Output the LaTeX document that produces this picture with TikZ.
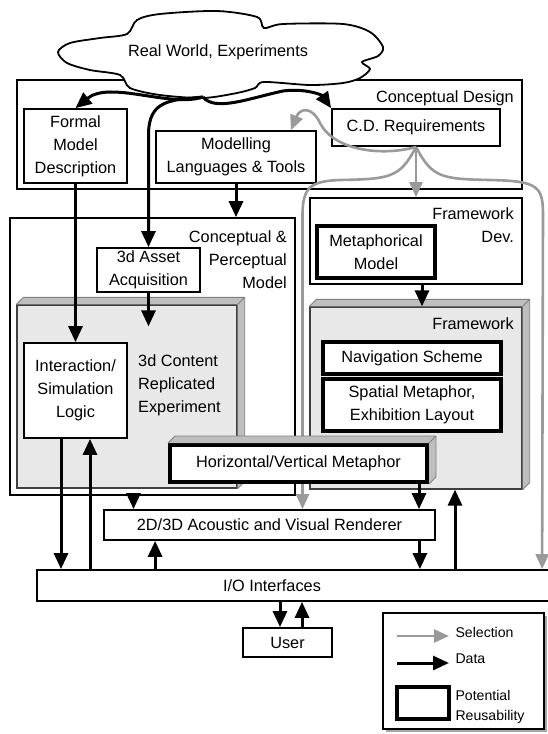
\documentclass[tikz,border=0pt]{standalone}
\usepackage{fontspec}
\setmainfont{Liberation Sans}
\usetikzlibrary{arrows.meta,calc,shadows}

\definecolor{selgray}{HTML}{9A9A9A}
\definecolor{slabfront}{HTML}{E8E8E8}
\definecolor{slabside}{HTML}{BEBEBE}

\newcommand{\slabdepth}[1]{%
  \fill[slabside] (#1.north west) -- ++(7,-7) -- ($(#1.north east)+(7,-7)$) -- ($(#1.south east)+(7,-7)$) -- (#1.south east) -- (#1.north east) -- cycle;
  \draw[gray,line width=0.8pt] (#1.north west) -- ++(7,-7) -- ($(#1.north east)+(7,-7)$) -- ($(#1.south east)+(7,-7)$) -- (#1.south east) (#1.north east) -- ++(7,-7);}

\begin{document}
\begin{tikzpicture}[x=1pt,y=-1pt,
  font=\fontsize{16.3}{23}\selectfont,
  box/.style={draw,line width=1.8pt,fill=white,align=center,inner sep=2pt},
  reuse/.style={box,line width=4pt},
  frame/.style={draw,line width=1.8pt,inner sep=0pt},
  slab/.style={draw=black!75,line width=1.3pt,fill=slabfront,inner sep=0pt},
  tag/.style={align=right,inner sep=2pt},
  keytext/.style={font=\fontsize{14.1}{20}\selectfont,align=left},
  data/.style={line width=3pt,-{Triangle[length=16pt,width=14pt]}},
  sel/.style={selgray,line width=2.6pt,-{Triangle[length=15pt,width=13pt]}}]
\useasboundingbox (0,0) rectangle (547,734);

\node[frame,minimum width=505pt,minimum height=109pt] (cd) at (269.5,134.5) {};
\node[tag,anchor=east] (cdtag) at (516,98) {Conceptual Design};
\draw[line width=1.8pt,fill=white] plot[smooth cycle,tension=0.5] coordinates {
  (58,52) (70,43) (100,38) (127,34) (137,20) (160,14) (217,11) (257,17) (264,28)
  (283,24) (343,24) (370,32) (383,47) (378,56) (362,62) (370,69) (360,78) (343,83)
  (310,85) (264,82) (255,88) (237,93) (203,98) (160,95) (130,88) (120,75) (90,70) (67,63)};
\node (world) at (218,52) {Real World, Experiments};
\node[box,minimum width=103pt,minimum height=74pt] (fmd) at (75.5,146) {Formal\\Model\\Description};
\node[box,minimum width=160pt,minimum height=52pt] (mlt) at (236,157) {Modelling\\Languages \& Tools};
\node[box,minimum width=168pt,minimum height=37pt] (cdr) at (416,127.5) {C.D. Requirements};

\node[frame,minimum width=285pt,minimum height=277pt] (cpm) at (152.5,356.5) {};
\node[tag,anchor=north east] (cpmtag) at (289,228) {Conceptual \&\\Perceptual\\Model};
\node[box,minimum width=103pt,minimum height=44pt] (asset) at (148.5,270) {3d Asset\\Acquisition};
\node[slab,minimum width=220pt,minimum height=183pt] (content) at (127,396.5) {};
\slabdepth{content}
\node[align=left,anchor=north west,inner sep=2pt] (contenttag) at (136,352) {3d Content\\Replicated\\Experiment};
\node[box,minimum width=103pt,minimum height=95pt] (isl) at (75.5,390.5) {Interaction/\\Simulation\\Logic};

\node[frame,minimum width=212pt,minimum height=86pt] (fwdev) at (416,241) {};
\node[tag,anchor=north east] (fwdevtag) at (516,205) {Framework\\Dev.};
\node[reuse,minimum width=118pt,minimum height=52pt] (mm) at (376,252) {Metaphorical\\Model};
\node[slab,minimum width=212pt,minimum height=182pt] (fw) at (416,398) {};
\slabdepth{fw}
\node[tag,anchor=north east] (fwtag) at (516,315) {Framework};
\node[reuse,minimum width=178pt,minimum height=32pt] (nav) at (412,358) {Navigation Scheme};
\node[reuse,minimum width=178pt,minimum height=52pt] (spm) at (412,405) {Spatial Metaphor,\\Exhibition Layout};

\node[box,minimum width=331pt,minimum height=30pt] (rend) at (269.5,525) {2D/3D Acoustic and Visual Renderer};
\node[box,minimum width=523pt,minimum height=31pt] (io) at (298.5,585.5) {};
\node (iotag) at (272,585.5) {I/O Interfaces};
\node[box,minimum width=89pt,minimum height=29pt] (user) at (287.5,642.5) {User};

\coordinate (drop) at ([xshift=-15pt]world.south |- 0,97);
\draw[data] (drop) .. controls (170,108) and (110,80) .. (fmd.north);
\draw[data] (drop) .. controls (170,100) and (148.5,100) .. (148.5,135) -- (asset.north);
\draw[data] (drop) .. controls (215,112) and (250,98) .. (283,91) .. controls (305,88) and (322,95) .. (cdr.north west);
\draw[data] (fmd.south) -- (isl.north);
\draw[data] (mlt.south) -- (mlt.south |- cpm.north);
\draw[data] (asset.south) -- ($(asset.south |- content.north)+(0,22)$);
\draw[data] ([xshift=6pt]fwdev.south) -- ([xshift=6pt]fw.north);

\draw[sel] (cdr.south) -- (fwdev.north);
\draw[sel] (cdr.south) .. controls (385,156) and (335,152) .. (320,123) .. controls (312,106) and (300,108) .. ([xshift=-26pt]mlt.north east);
\draw[sel] (cdr.south) .. controls (400,178) and (390,179) .. (340,180) .. controls (310,181) and (302.5,188) .. (302.5,215) -- ($(rend.north)+(33,0)$);
\draw[sel] (cdr.south) .. controls (432,178) and (442,179) .. (490,180) .. controls (538,181) and (543,186) .. (543,215) -- ($(io.north west)+(506,0)$);

\node[reuse,minimum width=257pt,minimum height=37pt] (hvm) at (298.5,463.5) {Horizontal/Vertical Metaphor};
\slabdepth{hvm}

\draw[data] ($(isl.south)+(-14.5,0)$) -- ($(isl.south |- io.north)+(-14.5,0)$);
\draw[data] ($(isl.south |- io.north)+(14.5,0)$) -- ($(isl.south)+(14.5,0)$);
\draw[data] ($(cpm.south)+(-19,0)$) -- ($(cpm.south |- rend.north)+(-19,0)$);
\draw[data] ($(io.north -| rend.south west)+(52,0)$) -- ($(rend.south west)+(52,0)$);
\draw[data] ($(hvm.south)+(120.5,0)$) -- ($(hvm.south |- rend.north)+(120.5,0)$);
\draw[data] ($(rend.south east)+(-16,0)$) -- ($(io.north -| rend.south east)+(-16,0)$);
\draw[data] ($(io.north -| fw.south)+(39,0)$) -- ($(fw.south)+(39,0)$);
\draw[data] ($(io.south -| user.north)+(-7.5,0)$) -- ($(user.north)+(-7.5,0)$);
\draw[data] ($(user.north)+(14.5,0)$) -- ($(io.south -| user.north)+(14.5,0)$);

\node[frame,fill=white,drop shadow={shadow xshift=3pt,shadow yshift=-3pt,fill=gray!70,opacity=1},minimum width=161pt,minimum height=116pt] (legend) at (463.5,671) {};
\coordinate (selA) at (397,636);
\coordinate (selB) at (449,636);
\draw[sel] (selA) -- (selB);
\node[keytext,anchor=west] (seltag) at (452,632) {Selection};
\coordinate (dataA) at (397,663);
\coordinate (dataB) at (449,663);
\draw[data] (dataA) -- (dataB);
\node[keytext,anchor=west] (datatag) at (452,659) {Data};
\node[draw,line width=4pt,minimum width=52pt,minimum height=32pt] (reusekey) at (423,703) {};
\node[keytext,anchor=west] (reusetag) at (452,707) {Potential\\Reusability};
\end{tikzpicture}
\end{document}
